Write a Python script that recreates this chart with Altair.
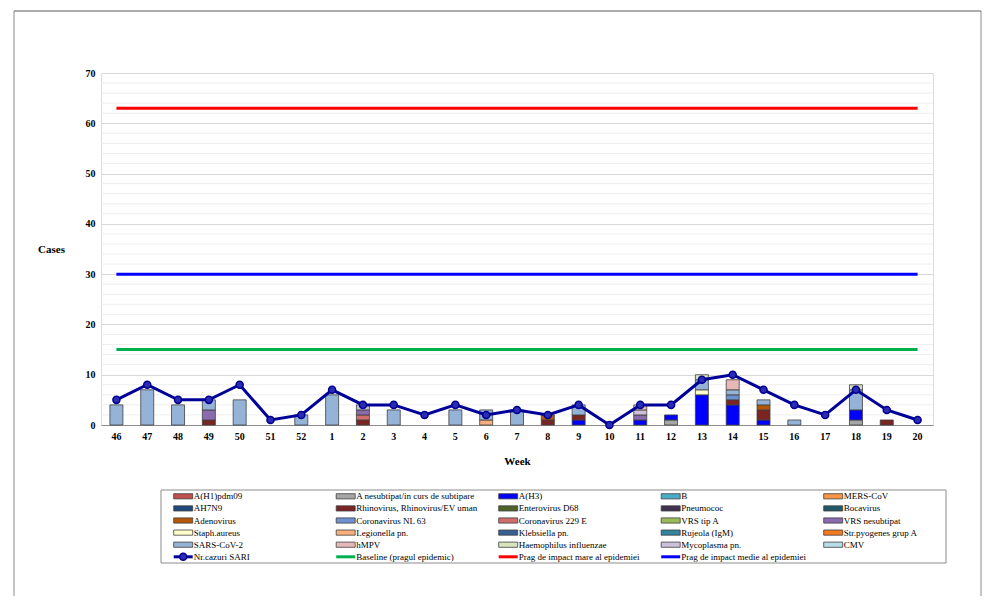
import altair as alt
import pandas as pd

FONT = "Liberation Serif"

weeks = ["46", "47", "48", "49", "50", "51", "52", "1", "2", "3", "4", "5", "6", "7",
         "8", "9", "10", "11", "12", "13", "14", "15", "16", "17", "18", "19", "20"]

sari = [5, 8, 5, 5, 8, 1, 2, 7, 4, 4, 2, 4, 2, 3, 2, 4, 0, 4, 4, 9, 10, 7, 4, 2, 7, 3, 1]

baseline_value = 15
medium_value = 30
high_value = 63

y_ticks = [0, 10, 20, 30, 40, 50, 60, 70]

series_names = [
    "A(H1)pdm09", "A nesubtipat/in curs de subtipare", "A(H3)", "B", "MERS-CoV",
    "AH7N9", "Rhinovirus, Rhinovirus/EV uman", "Enterovirus D68", "Pneumococ", "Bocavirus",
    "Adenovirus", "Coronavirus NL 63", "Coronavirus 229 E", "VRS tip A", "VRS nesubtipat",
    "Staph.aureus", "Legionella pn.", "Klebsiella pn.", "Rujeola (IgM)", "Str.pyogenes grup A",
    "SARS-CoV-2", "hMPV", "Haemophilus influenzae", "Mycoplasma pn.", "CMV",
]
series_colors = [
    "#C0504D", "#A6A6A6", "#0000FF", "#4BACC6", "#F79646",
    "#1F497D", "#7B2424", "#4F6228", "#3F3151", "#215968",
    "#B65708", "#6C93CF", "#D06E6E", "#9BBB59", "#8A6BB0",
    "#FFFFCC", "#F9B07C", "#366092", "#31859C", "#F57A1E",
    "#95B3D7", "#E6B9B8", "#D7E4BC", "#CCC0DA", "#B7DEE8",
]

line_names = ["Nr.cazuri SARI", "Baseline (pragul epidemic)",
              "Prag de impact mare al epidemiei", "Prag de impact medie al epidemiei"]
line_colors = ["#000099", "#00B050", "#FF0000", "#0000FF"]

# weekly counts of the series that appear (same order as weeks)
a_nesubtipat = [0, 0, 0, 0, 0, 0, 0, 0, 0, 0, 0, 0, 0, 0, 0, 0, 0, 0, 1, 0, 0, 0, 0, 0, 1, 0, 0]
a_h3 = [0, 0, 0, 0, 0, 0, 0, 0, 0, 0, 0, 0, 0, 0, 0, 1, 0, 1, 1, 6, 4, 1, 0, 0, 2, 0, 0]
legionella = [0, 0, 0, 0, 0, 0, 0, 0, 0, 0, 0, 0, 1, 0, 0, 0, 0, 0, 0, 0, 0, 0, 0, 0, 0, 0, 0]
rhinovirus = [0, 0, 0, 1, 0, 0, 0, 0, 1, 0, 0, 0, 0, 0, 1, 1, 0, 0, 0, 0, 1, 2, 0, 0, 0, 1, 0]
corona_229e = [0, 0, 0, 0, 0, 0, 0, 0, 1, 0, 0, 0, 0, 0, 0, 0, 0, 0, 0, 0, 0, 0, 0, 0, 0, 0, 0]
adenovirus = [0, 0, 0, 0, 0, 0, 0, 0, 0, 0, 0, 0, 0, 0, 1, 0, 0, 0, 0, 0, 0, 1, 0, 0, 0, 0, 0]
corona_nl63 = [0, 0, 0, 0, 0, 0, 0, 0, 0, 0, 0, 0, 0, 0, 0, 0, 0, 0, 0, 0, 1, 0, 0, 0, 0, 0, 0]
staph = [0, 0, 0, 0, 0, 0, 0, 0, 0, 0, 0, 0, 0, 0, 0, 0, 0, 0, 0, 1, 0, 0, 0, 0, 0, 0, 0]
vrs_nesubtipat = [0, 0, 0, 2, 0, 0, 0, 0, 1, 0, 0, 0, 0, 0, 0, 0, 0, 1, 0, 0, 0, 0, 0, 0, 0, 0, 0]
mycoplasma = [0, 0, 0, 0, 0, 0, 0, 0, 1, 0, 0, 0, 0, 0, 0, 0, 0, 1, 0, 0, 0, 0, 0, 0, 0, 0, 0]
sars_cov2 = [4, 7, 4, 2, 5, 0, 2, 6, 0, 3, 0, 3, 2, 3, 0, 2, 0, 0, 0, 2, 1, 1, 1, 0, 4, 0, 0]
hmpv = [0, 0, 0, 0, 0, 0, 0, 0, 0, 0, 0, 0, 0, 0, 0, 0, 0, 1, 0, 0, 2, 0, 0, 0, 0, 0, 0]
haemophilus = [0, 0, 0, 0, 0, 0, 0, 0, 0, 0, 0, 0, 0, 0, 0, 0, 0, 0, 0, 1, 0, 0, 0, 0, 1, 0, 0]

# bottom-to-top stacking order
stack_series = [
    ("A nesubtipat/in curs de subtipare", a_nesubtipat),
    ("A(H3)", a_h3),
    ("Legionella pn.", legionella),
    ("Rhinovirus, Rhinovirus/EV uman", rhinovirus),
    ("Coronavirus 229 E", corona_229e),
    ("Adenovirus", adenovirus),
    ("Coronavirus NL 63", corona_nl63),
    ("Staph.aureus", staph),
    ("VRS nesubtipat", vrs_nesubtipat),
    ("Mycoplasma pn.", mycoplasma),
    ("SARS-CoV-2", sars_cov2),
    ("hMPV", hmpv),
    ("Haemophilus influenzae", haemophilus),
]

rows = []
for k, (name, vals) in enumerate(stack_series):
    for i, v in enumerate(vals):
        if v:
            rows.append({"week": weeks[i], "series": name, "value": v, "order": k})
bars_df = pd.DataFrame(rows)

sari_df = pd.DataFrame({"week": weeks, "value": sari})
thr_rows = []
for name, val in [(line_names[1], baseline_value), (line_names[2], high_value), (line_names[3], medium_value)]:
    for w in weeks:
        thr_rows.append({"week": w, "value": val, "name": name})
thr_df = pd.DataFrame(thr_rows)

minor_df = pd.DataFrame({"value": [v for v in range(0, 71, 2) if v % 10]})

PLOT_W, PLOT_H = 832, 352
# frame around the whole figure, relative to the plot area's top-left corner
FR_L, FR_R, FR_T, FR_B = -87, 880, -62, 523

yscale = alt.Scale(domain=[0, 70], nice=False)

x_enc = alt.X(
    "week:N", sort=weeks,
    scale=alt.Scale(paddingInner=0, paddingOuter=0),
    axis=alt.Axis(title="Week", labelAngle=0, ticks=False, domainColor="#8c8c8c",
                  labelFont=FONT, labelFontSize=10, labelFontWeight="bold", labelColor="#000",
                  labelPadding=6, titleFont=FONT, titleFontSize=11, titleFontWeight="bold",
                  titleColor="#000", titlePadding=14, grid=False),
)

y_enc = alt.Y(
    "value:Q", stack="zero", scale=yscale,
    axis=alt.Axis(
        title="Cases", titleAngle=0, titleX=-50, titleY=PLOT_H / 2, titleAlign="center",
        titleBaseline="middle", titleFont=FONT, titleFontSize=11, titleFontWeight="bold",
        titleColor="#000",
        values=y_ticks, labelOverlap=False,
        labelFont=FONT, labelFontSize=10, labelFontWeight="bold", labelColor="#000",
        labelPadding=6, ticks=False, domain=False,
        gridColor="#d9d9d9", gridWidth=1,
    ),
)

minor = alt.Chart(minor_df).mark_rule(color="#eeeeee", strokeWidth=1).encode(
    y=alt.Y("value:Q", scale=yscale),
)

bars = alt.Chart(bars_df).mark_bar(size=13, stroke="#404040", strokeWidth=0.8).encode(
    x=x_enc,
    y=y_enc,
    color=alt.Color("series:N", scale=alt.Scale(domain=series_names, range=series_colors), legend=None),
    order=alt.Order("order:Q"),
)

thr = alt.Chart(thr_df).mark_line(strokeWidth=3).encode(
    x=alt.X("week:N", sort=weeks),
    y=alt.Y("value:Q"),
    stroke=alt.Stroke("name:N", scale=alt.Scale(domain=line_names[1:], range=line_colors[1:]), legend=None),
    detail="name:N",
)

sari_line = alt.Chart(sari_df).mark_line(
    strokeWidth=3, color=line_colors[0],
    point=alt.OverlayMarkDef(filled=True, fill="#2b2bb5", stroke="#000090", strokeWidth=1.5, size=50),
).encode(
    x=alt.X("week:N", sort=weeks),
    y=alt.Y("value:Q"),
)

# decorative figure frame (top, left and right edges)
frame_df = pd.DataFrame({"edge": ["top", "left", "right"]})
frame_top = alt.Chart(frame_df).transform_filter("datum.edge === 'top'").mark_rule(color="#595959", strokeWidth=1).encode(
    x=alt.value(FR_L), x2=alt.value(FR_R), y=alt.value(FR_T))
frame_left = alt.Chart(frame_df).transform_filter("datum.edge === 'left'").mark_rule(color="#8c8c8c", strokeWidth=1).encode(
    x=alt.value(FR_L), y=alt.value(FR_T), y2=alt.value(FR_B))
frame_right = alt.Chart(frame_df).transform_filter("datum.edge === 'right'").mark_rule(color="#8c8c8c", strokeWidth=1).encode(
    x=alt.value(FR_R), y=alt.value(FR_T), y2=alt.value(FR_B))

main = alt.layer(minor, bars, thr, sari_line, frame_top, frame_left, frame_right)

# ---- legend (drawn below the plot with its own scales) ----
leg_names = series_names + line_names
leg_colors = series_colors + line_colors
leg_df = pd.DataFrame({
    "name": leg_names,
    "color": leg_colors,
    "kind": ["bar"] * len(series_names) + ["line"] * len(line_names),
    "idx": list(range(len(leg_names))),
})
leg_df["col"] = leg_df["idx"] % 5
leg_df["row"] = leg_df["idx"] // 5

BOX_L, BOX_R, BOX_T, BOX_B = 60, 845, 417, 490
COL0, COL_STEP = 72.7, 162.5
ROW0, ROW_STEP = 423.3, 12.1
SYM_W = 19

xs = alt.Scale(domain=[0, 1], range=[COL0, COL0 + COL_STEP], nice=False, zero=False)
ys = alt.Scale(domain=[0, 1], range=[ROW0, ROW0 + ROW_STEP], nice=False, zero=False)

leg_base = alt.Chart(leg_df).transform_calculate(
    col2=f"datum.col + {SYM_W / COL_STEP}",
    colm=f"datum.col + {SYM_W / 2 / COL_STEP}",
    rtop=f"datum.row - {2.6 / ROW_STEP}",
    rbot=f"datum.row + {2.6 / ROW_STEP}",
)

leg_box = alt.Chart(pd.DataFrame({"b": [0]})).mark_rect(fill="white", stroke="#8c8c8c", strokeWidth=1).encode(
    x=alt.value(BOX_L), x2=alt.value(BOX_R), y=alt.value(BOX_T), y2=alt.value(BOX_B))

leg_rect = leg_base.transform_filter("datum.kind === 'bar'").mark_rect(stroke="#404040", strokeWidth=0.8).encode(
    x=alt.X("col:Q", scale=xs, axis=None), x2="col2:Q",
    y=alt.Y("rtop:Q", scale=ys, axis=None), y2="rbot:Q",
    color=alt.Color("color:N", scale=None),
)

leg_line = leg_base.transform_filter("datum.kind === 'line'").mark_rule(strokeWidth=3).encode(
    x=alt.X("col:Q", scale=xs, axis=None), x2="col2:Q",
    y=alt.Y("row:Q", scale=ys, axis=None),
    color=alt.Color("color:N", scale=None),
)

leg_pt = leg_base.transform_filter(f"datum.name === '{line_names[0]}'").mark_point(
    filled=True, fill="#2b2bb5", stroke="#000090", strokeWidth=1.5, size=50, opacity=1,
).encode(
    x=alt.X("colm:Q", scale=xs, axis=None), y=alt.Y("row:Q", scale=ys, axis=None),
)

leg_text = leg_base.mark_text(align="left", baseline="middle", dx=SYM_W + 1, font=FONT, fontSize=9, color="#000").encode(
    x=alt.X("col:Q", scale=xs, axis=None), y=alt.Y("row:Q", scale=ys, axis=None), text="name:N",
)

legend = alt.layer(leg_box, leg_rect, leg_line, leg_pt, leg_text)

chart = alt.layer(main, legend).resolve_scale(
    x="independent", y="independent"
).properties(
    width=PLOT_W, height=PLOT_H,
    padding={"left": 5, "top": 2, "right": 0, "bottom": 0},
).configure_view(strokeWidth=0).configure(background="white")

chart.save("out.html", embed_options={"renderer": "svg", "actions": False})
